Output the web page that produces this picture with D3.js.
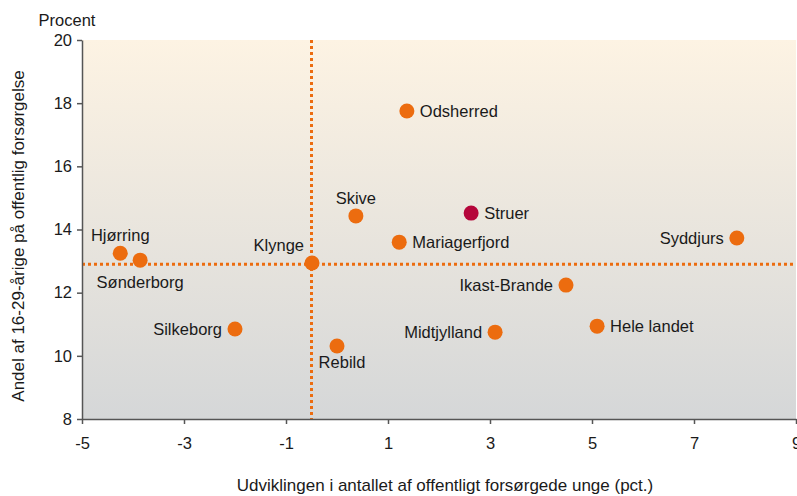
<!DOCTYPE html>
<html>
<head>
<meta charset="utf-8">
<script src="https://cdn.jsdelivr.net/npm/d3@7"></script>
<style>
  body { margin: 0; background: #fff; }
  text { font-family: "Liberation Sans", Arial, sans-serif; fill: #1a1a1a; }
</style>
</head>
<body>
<div id="chart"></div>
<script>
const width = 797;
const height = 496;

// data
const names = ["Hjørring", "Sønderborg", "Klynge", "Silkeborg", "Rebild", "Skive", "Mariagerfjord",
  "Odsherred", "Struer", "Midtjylland", "Ikast-Brande", "Hele landet", "Syddjurs"];
const growth = [-4.25, -3.86, -0.49, -2.0, 0.0, 0.37, 1.22, 1.37, 2.63, 3.1, 4.49, 5.1, 7.84];
const share = [13.25, 13.03, 12.94, 10.85, 10.31, 14.43, 13.6, 17.75, 14.52, 10.75, 12.24, 10.94, 13.73];
// where the label sits relative to its dot
const labelPos = ["above", "below", "aboveleft", "left", "belowright", "above", "right",
  "right", "right", "left", "left", "right", "left"];
const highlight = "Struer";

const xTicks = [-5, -3, -1, 1, 3, 5, 7, 9];
const yTicks = [8, 10, 12, 14, 16, 18, 20];
const clusterX = -0.5;
const clusterY = 12.9;

const margin = { top: 40, right: 1, bottom: 77, left: 82 };
const fs = 16.5;

const x = d3.scaleLinear().domain([-5, 9]).range([margin.left, width - margin.right]);
const y = d3.scaleLinear().domain([8, 20]).range([height - margin.bottom, margin.top]);

const svg = d3.select("#chart").append("svg")
  .attr("width", width)
  .attr("height", height);

const defs = svg.append("defs");
const grad = defs.append("linearGradient")
  .attr("id", "bg")
  .attr("x1", 0).attr("y1", 0).attr("x2", 0).attr("y2", 1);
grad.append("stop").attr("offset", "0%").attr("stop-color", "#fdf3e3");
grad.append("stop").attr("offset", "100%").attr("stop-color", "#d5d7d8");

svg.append("rect")
  .attr("x", x(-5))
  .attr("y", y(20))
  .attr("width", x(9) - x(-5))
  .attr("height", y(8) - y(20))
  .attr("fill", "url(#bg)");

// dotted reference lines
svg.append("line")
  .attr("x1", x(clusterX)).attr("x2", x(clusterX))
  .attr("y1", y(20)).attr("y2", y(8))
  .attr("stroke", "#ec6c0f").attr("stroke-width", 3)
  .attr("stroke-dasharray", "3,3");
svg.append("line")
  .attr("x1", x(-5)).attr("x2", x(9))
  .attr("y1", y(clusterY)).attr("y2", y(clusterY))
  .attr("stroke", "#ec6c0f").attr("stroke-width", 3)
  .attr("stroke-dasharray", "3,3");

// axes
const fmt = d => String(d);
const xAxis = svg.append("g")
  .attr("transform", `translate(0,${y(8)})`)
  .call(d3.axisBottom(x).tickValues(xTicks).tickFormat(fmt).tickSizeOuter(0).tickSizeInner(5).tickPadding(13));
const yAxis = svg.append("g")
  .attr("transform", `translate(${x(-5)},0)`)
  .call(d3.axisLeft(y).tickValues(yTicks).tickFormat(fmt).tickSizeOuter(0).tickSizeInner(5).tickPadding(5));

[xAxis, yAxis].forEach(g => {
  g.select(".domain").attr("stroke", "#555").attr("stroke-width", 1.5);
  g.selectAll(".tick line").attr("stroke", "#555").attr("stroke-width", 1.5);
  g.selectAll(".tick text")
    .attr("font-family", "Liberation Sans, Arial, sans-serif")
    .attr("font-size", fs).attr("fill", "#1a1a1a");
});

// points
const pts = names.map((n, i) => ({ name: n, gx: growth[i], sy: share[i], pos: labelPos[i] }));

svg.append("g").selectAll("circle")
  .data(pts)
  .enter().append("circle")
  .attr("cx", d => x(d.gx))
  .attr("cy", d => y(d.sy))
  .attr("r", 7.5)
  .attr("fill", d => d.name === highlight ? "#b5063b" : "#ec6c0f");

svg.append("g").selectAll("text")
  .data(pts)
  .enter().append("text")
  .attr("font-size", fs)
  .attr("x", d => {
    const cx = x(d.gx);
    if (d.pos === "right") return cx + 13;
    if (d.pos === "left") return cx - 13;
    if (d.pos === "aboveleft") return cx - 8;
    if (d.pos === "belowright") return cx + 5;
    return cx;
  })
  .attr("y", d => {
    const cy = y(d.sy);
    if (d.pos === "above") return cy - 12;
    if (d.pos === "aboveleft") return cy - 12;
    if (d.pos === "below") return cy + 28;
    if (d.pos === "belowright") return cy + 22;
    return cy + 6;
  })
  .attr("text-anchor", d => {
    if (d.pos === "right") return "start";
    if (d.pos === "left" || d.pos === "aboveleft") return "end";
    return "middle";
  })
  .text(d => d.name);

// titles
svg.append("text")
  .attr("x", 67).attr("y", 26)
  .attr("text-anchor", "middle")
  .attr("font-size", fs)
  .text("Procent");

svg.append("text")
  .attr("transform", `translate(24,236) rotate(-90)`)
  .attr("text-anchor", "middle")
  .attr("font-size", 17)
  .text("Andel af 16-29-årige på offentlig forsørgelse");

svg.append("text")
  .attr("x", 445).attr("y", 491)
  .attr("text-anchor", "middle")
  .attr("font-size", 17)
  .text("Udviklingen i antallet af offentligt forsørgede unge (pct.)");
</script>
</body>
</html>
